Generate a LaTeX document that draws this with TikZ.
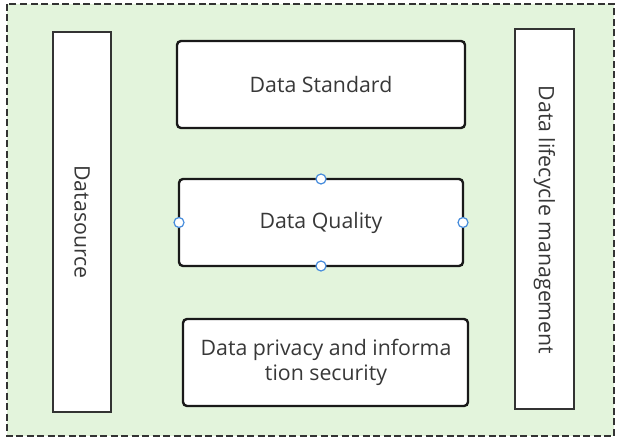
\documentclass[tikz,border=0pt]{standalone}
\usepackage{fontspec}
\setmainfont{Open Sans}
\begin{document}
\begin{tikzpicture}[x=1pt,y=-1pt,
  every node/.style={font=\fontsize{21.3}{25}\selectfont, text=black!78},
  tallbox/.style={draw=black!80, line width=1.4pt, fill=white},
  roundbox/.style={draw=black!90, line width=2.4pt, rounded corners=4pt, fill=white},
  handle/.style={circle, draw={rgb,255:red,70;green,140;blue,220}, fill=white, line width=1.2pt, inner sep=0pt, minimum size=10pt}]
\definecolor{bgGreen}{RGB}{227,244,220}
\useasboundingbox (0,0) rectangle (617,438);
\draw[dash pattern=on 7pt off 3.5pt, line width=1.4pt, draw=black!80, fill=bgGreen] (7,4) rectangle (614,436);
\draw[tallbox] (53,32) rectangle (111,412);
\node[rotate=-90] (ds) at (82,222) {Datasource};
\draw[tallbox] (515,29) rectangle (574,409);
\node[rotate=-90] (lc) at (544.5,220) {Data lifecycle management};
\draw[roundbox] (177,41) rectangle (465,128);
\node (std) at (321,84.5) {Data Standard};
\draw[roundbox] (179,179) rectangle (463,266);
\node (dq) at (321,222.5) {Data Quality};
\draw[roundbox] (183,319) rectangle (468,406);
\node[align=center] (dp) at (326,362.5) {Data privacy and informa\\tion security};
\node[handle] (h1) at (321,179) {};
\node[handle] (h2) at (321,266) {};
\node[handle] (h3) at (179,222.5) {};
\node[handle] (h4) at (463,222.5) {};
\end{tikzpicture}
\end{document}
